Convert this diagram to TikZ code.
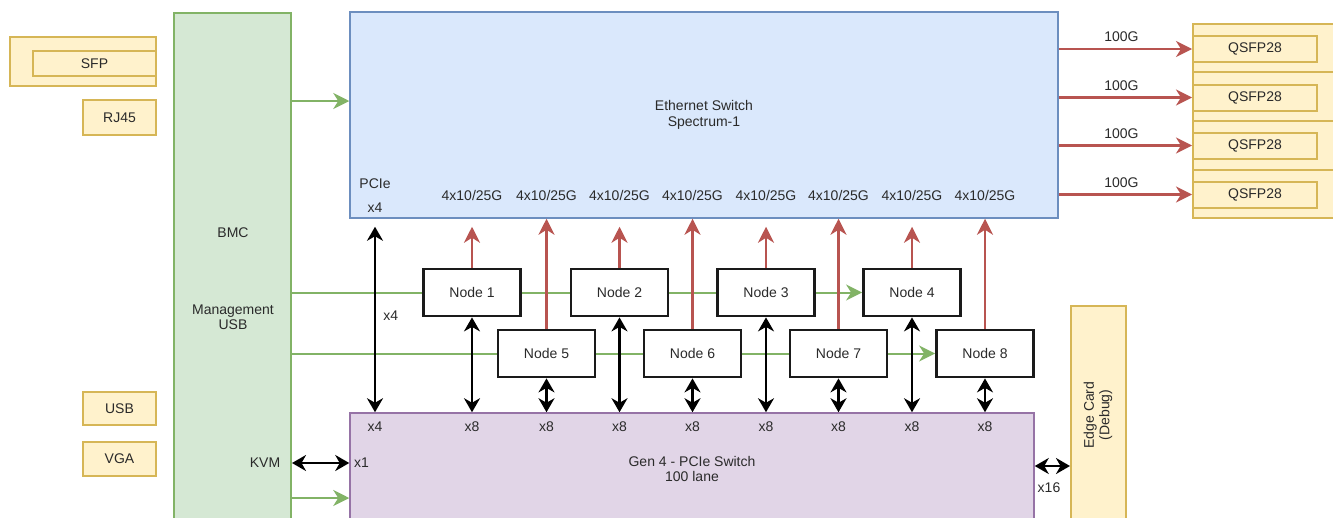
\documentclass[tikz,border=0pt]{standalone}
\usepackage{fontspec}
\setmainfont{Liberation Sans}
\usetikzlibrary{arrows.meta}
\definecolor{gstroke}{HTML}{82B366}
\definecolor{gfill}{HTML}{D5E8D4}
\definecolor{bstroke}{HTML}{6C8EBF}
\definecolor{bfill}{HTML}{DAE8FC}
\definecolor{ystroke}{HTML}{D6B656}
\definecolor{yfill}{HTML}{FFF2CC}
\definecolor{pstroke}{HTML}{9673A6}
\definecolor{pfill}{HTML}{E1D5E7}
\definecolor{rstroke}{HTML}{B85450}
\definecolor{txt}{HTML}{2A2A2A}
\definecolor{nstroke}{HTML}{1A1A1A}
\begin{document}
\begin{tikzpicture}[x=1pt,y=-1pt,
  every node/.style={font=\fontsize{14}{15.5}\selectfont, text=txt, inner sep=0pt, align=center},
  yel/.style={draw=ystroke, fill=yfill, line width=2pt, rectangle},
  nodebox/.style={draw=nstroke, fill=white, line width=2.8pt, minimum width=97pt, minimum height=47pt},
  gline/.style={draw=gstroke, line width=2pt},
  garr/.style={draw=gstroke, line width=2pt, -{Stealth[length=16pt,width=16pt,inset=5pt]}},
  rarr/.style={draw=rstroke, line width=2.2pt, -{Stealth[length=16pt,width=16pt,inset=5pt]}},
  barr/.style={draw=black, line width=2.6pt, {Stealth[length=14pt,width=16pt,inset=4.5pt]}-{Stealth[length=14pt,width=16pt,inset=4.5pt]}}
]
\useasboundingbox (0,0) rectangle (1333,517);
\clip (0,0) rectangle (1333,517);
\fill[white] (0,0) rectangle (1333,517);

% left connectors
\node[yel, minimum width=146pt, minimum height=49pt] (sfpo) at (83,61.5) {};
\node[yel, minimum width=123pt, minimum height=25pt] (sfp) at (94.5,63.5) {SFP};
\node[yel, minimum width=73pt, minimum height=35pt] (rj45) at (119.5,117.5) {RJ45};
\node[yel, minimum width=73pt, minimum height=33pt] (usb) at (119.5,408.5) {USB};
\node[yel, minimum width=73pt, minimum height=34pt] (vga) at (119.5,459) {VGA};

% BMC
\node[draw=gstroke, fill=gfill, line width=2pt, minimum width=117pt, minimum height=517pt] (bmc) at (232.5,271.5) {};
\node (bmclbl) at (233,233) {BMC};
\node (mgmt) at (233,317) {Management\\USB};
\node (kvm) at (265,463) {KVM};

% Ethernet switch
\node[draw=bstroke, fill=bfill, line width=1.5pt, minimum width=708pt, minimum height=206pt] (eth) at (704,115) {Ethernet Switch\\Spectrum-1};
\node (pcielbl) at (375,184) {PCIe};
\node (pciex4) at (375,208) {x4};

% PCIe switch
\node[draw=pstroke, fill=pfill, line width=1.5pt, minimum width=684pt, minimum height=127pt] (pcie) at (692,476.5) {};
\node (pcielabel) at (692,469) {Gen 4 - PCIe Switch\\100 lane};

% Edge card
\node[yel, minimum width=55pt, minimum height=234pt] (edge) at (1098.5,423) {};
\node[rotate=90] (edgelbl) at (1098,415) {Edge Card\\(Debug)};

% QSFP
\foreach \i/\yo/\yi in {1/48/49, 2/96.5/97.5, 3/145.5/145.5, 4/194/194.5} {
  \node[yel, minimum width=152pt, minimum height=48.5pt] (qo\i) at (1269,\yo) {};
  \node[yel, minimum width=124pt, minimum height=26pt] (q\i) at (1255,\yi) {QSFP28};
}

% compute nodes
\node[nodebox] (n1) at (472,292.5) {Node 1};
\node[nodebox] (n2) at (619.5,292.5) {Node 2};
\node[nodebox] (n3) at (766,292.5) {Node 3};
\node[nodebox] (n4) at (912,292.5) {Node 4};
\node[nodebox] (n5) at (546.5,353.5) {Node 5};
\node[nodebox] (n6) at (692.5,353.5) {Node 6};
\node[nodebox] (n7) at (838.5,353.5) {Node 7};
\node[nodebox] (n8) at (985,353.5) {Node 8};

% helper coordinates
\coordinate (ga) at (0,101);
\coordinate (kv) at (0,463);
\coordinate (gb) at (0,498);
\coordinate (ed) at (0,466);
\coordinate (px) at (375,0);
\coordinate (ybw) at (0,195);
\coordinate (yx8) at (0,427);

% green links
\draw[garr] (bmc.east |- ga) -- (eth.west |- ga);
\draw[gline] (bmc.east |- n1.west) -- (n1.west);
\draw[gline] (n1) -- (n2);
\draw[gline] (n2) -- (n3);
\draw[garr] (n3) -- (n4);
\draw[gline] (bmc.east |- n5.west) -- (n5.west);
\draw[gline] (n5) -- (n6);
\draw[gline] (n6) -- (n7);
\draw[garr] (n7) -- (n8);
\draw[garr] (bmc.east |- gb) -- (pcie.west |- gb);

% 100G links
\foreach \i in {1,2,3,4} {
  \draw[rarr] (eth.east |- q\i.west) -- node[above=6pt, xshift=-4pt] (lbl100\i) {100G} (q\i.west);
}

% node uplinks
\foreach \n in {n1,n2,n3,n4} {
  \draw[rarr, shorten >=8pt] (\n.north) -- (\n.north |- eth.south);
  \draw[barr] (\n.south) -- (\n.south |- pcie.north);
}
\foreach \n in {n5,n6,n7,n8} {
  \draw[rarr] (\n.north) -- (\n.north |- eth.south);
  \draw[barr] (\n.south) -- (\n.south |- pcie.north);
}

% bandwidth and lane labels
\foreach \n [count=\i] in {n1,n5,n2,n6,n3,n7,n4,n8} {
  \node (bw\i) at (\n |- ybw) {4x10/25G};
  \node (x8\i) at (\n |- yx8) {x8};
}

% PCIe x4 from ethernet switch
\draw[barr, shorten <=8pt] (px |- eth.south) -- node[right=7pt] (x4mid) {x4} (px |- pcie.north);
\node (x4b) at (375,427) {x4};

% KVM
\draw[barr] (bmc.east |- kv) -- (pcie.west |- kv);
\node[anchor=west] (x1) at (354,463) {x1};

% edge card
\draw[barr] (pcie.east |- ed) -- (edge.west |- ed);
\node (x16) at (1049,488) {x16};
\end{tikzpicture}
\end{document}
